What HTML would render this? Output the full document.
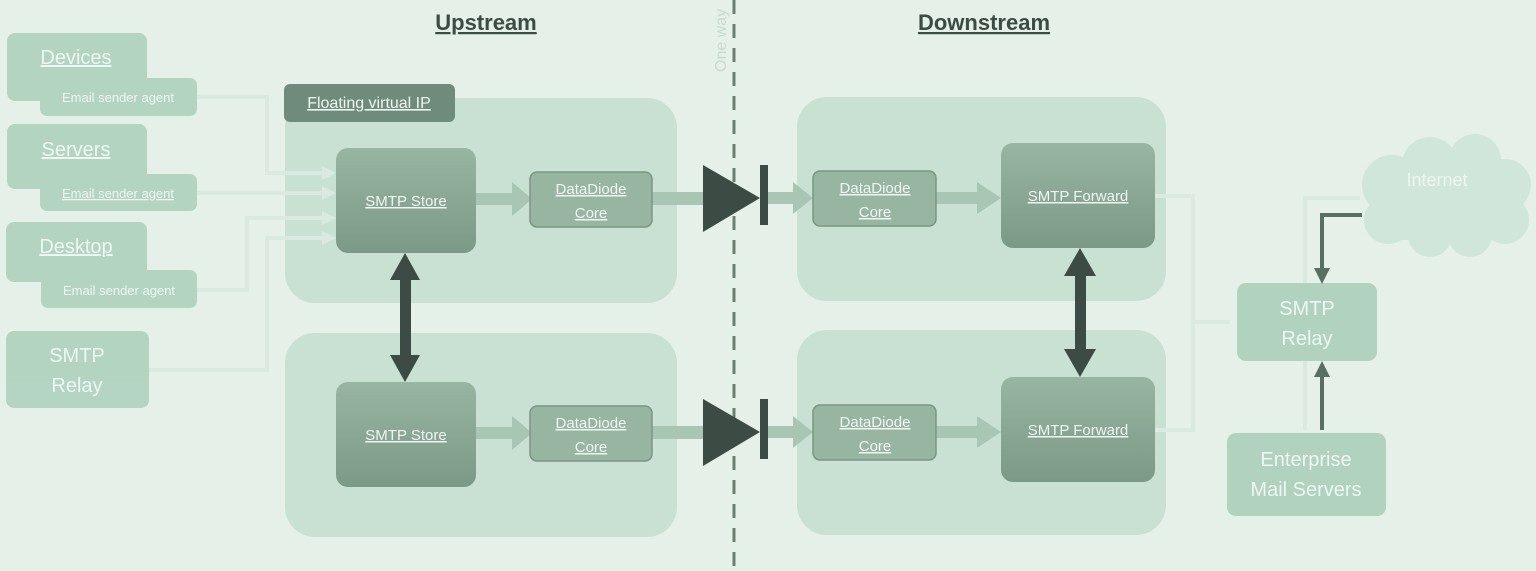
<!DOCTYPE html>
<html><head><meta charset="utf-8"><style>
html,body{margin:0;padding:0;background:#e4f0e8;}
svg{display:block;font-family:"Liberation Sans",sans-serif;}
.w{fill:#eef6f1;}
.u{text-decoration:underline;}
</style></head><body>
<svg width="1536" height="571" viewBox="0 0 1536 571" xmlns="http://www.w3.org/2000/svg">
<defs>
<linearGradient id="dg" x1="0" y1="0" x2="0" y2="1"><stop offset="0" stop-color="#98b5a2"/><stop offset="1" stop-color="#7c9886"/></linearGradient>
</defs>
<rect width="1536" height="571" fill="#e4f0e8"/>
<text x="486" y="30" font-size="22" font-weight="bold" fill="#3c4c44" text-anchor="middle" class="u">Upstream</text>
<text x="984" y="30" font-size="22" font-weight="bold" fill="#3c4c44" text-anchor="middle" class="u">Downstream</text>
<text transform="translate(726,72) rotate(-90)" font-size="16" fill="#c8dacd">One way</text>
<line x1="734" y1="0" x2="734" y2="571" stroke="#6a8072" stroke-width="3" stroke-dasharray="14,10"/>
<rect x="285" y="98" width="392" height="205" rx="30" fill="#c8e1d2"/>
<rect x="285" y="333" width="392" height="204" rx="30" fill="#c8e1d2"/>
<rect x="797" y="97" width="369" height="204" rx="30" fill="#c8e1d2"/>
<rect x="797" y="330" width="369" height="205" rx="30" fill="#c8e1d2"/>
<g stroke="#dbeae0" stroke-width="4" fill="none">
<polyline points="197,97 267,97 267,173 330,173"/>
<polyline points="197,193 330,193"/>
<polyline points="197,290 247,290 247,218 330,218"/>
<polyline points="149,370 267,370 267,238 330,238"/>
</g>
<g fill="#dbeae0"><polygon points="322,166 336,173 322,180"/><polygon points="322,186 336,193 322,200"/><polygon points="322,211 336,218 322,225"/><polygon points="322,231 336,238 322,245"/></g>
<g fill="#b0d2bf" opacity="0.92">
<rect x="7" y="33" width="140" height="68" rx="8"/>
<rect x="40" y="78" width="157" height="38" rx="7"/>
<rect x="7" y="124" width="140" height="65" rx="8"/>
<rect x="40" y="174" width="157" height="37" rx="7"/>
<rect x="6" y="222" width="141" height="60" rx="8"/>
<rect x="41" y="270" width="156" height="38" rx="7"/>
<rect x="6" y="331" width="143" height="77" rx="8"/>
</g>
<g class="w" text-anchor="middle">
<text x="76" y="64" font-size="20" class="u">Devices</text>
<text x="118" y="102" font-size="13">Email sender agent</text>
<text x="76" y="156" font-size="20" class="u">Servers</text>
<text x="118" y="198" font-size="13" class="u">Email sender agent</text>
<text x="76" y="253" font-size="20" class="u">Desktop</text>
<text x="119" y="295" font-size="13">Email sender agent</text>
<text x="77" y="362" font-size="20">SMTP</text>
<text x="77" y="392" font-size="20">Relay</text>
</g>
<rect x="284" y="84" width="171" height="38" rx="6" fill="#6f8b7b"/>
<text x="369" y="108" font-size="16" class="w u" text-anchor="middle">Floating virtual IP</text>
<g id="row">
<rect x="476" y="193" width="40" height="12" fill="#a8c6b3"/>
<polygon points="512,182 532,199 512,216" fill="#a8c6b3"/>
<rect x="652" y="192" width="60" height="13" fill="#a8c6b3"/>
<rect x="336" y="148" width="140" height="105" rx="12" fill="url(#dg)"/>
<rect x="530" y="172" width="122" height="55" rx="7" fill="#98b5a2" stroke="#7c9584" stroke-width="1.5"/>
<text x="406" y="206" font-size="15" class="w u" text-anchor="middle">SMTP Store</text>
<text x="591" y="194" font-size="15" class="w u" text-anchor="middle">DataDiode</text>
<text x="591" y="218" font-size="15" class="w u" text-anchor="middle">Core</text>
<polygon points="703,165 760,198 703,232" fill="#3c4b43"/>
<rect x="760" y="165" width="8" height="60" fill="#3c4b43"/>
<rect x="768" y="192" width="25" height="12" fill="#a8c6b3"/>
<polygon points="793,182 813,198 793,214" fill="#a8c6b3"/>
<rect x="936" y="192" width="45" height="12" fill="#a8c6b3"/>
<polygon points="977,182 1001,198 977,214" fill="#a8c6b3"/>
<rect x="1001" y="143" width="154" height="105" rx="12" fill="url(#dg)"/>
<rect x="813" y="171" width="123" height="55" rx="7" fill="#98b5a2" stroke="#7c9584" stroke-width="1.5"/>
<text x="875" y="193" font-size="15" class="w u" text-anchor="middle">DataDiode</text>
<text x="875" y="217" font-size="15" class="w u" text-anchor="middle">Core</text>
<text x="1078" y="201" font-size="15" class="w u" text-anchor="middle">SMTP Forward</text>
</g>
<use href="#row" transform="translate(0,234)"/>
<g fill="#3c4b43">
<rect x="400" y="272" width="11" height="92"/>
<polygon points="405,253 390,280 420,280"/><polygon points="405,382 390,355 420,355"/>
<rect x="1075" y="268" width="11" height="90"/>
<polygon points="1080,248 1064,276 1096,276"/><polygon points="1080,377 1064,349 1096,349"/>
</g>
<g stroke="#dbeae0" stroke-width="4" fill="none">
<polyline points="1155,196 1193,196 1193,430 1155,430"/>
<polyline points="1193,322 1230,322"/>
<polyline points="1305,430 1305,361"/>
<polyline points="1305,283 1305,198 1360,198"/>
</g>
<g fill="#d1e6da">
<circle cx="1392" cy="185" r="30"/><circle cx="1430" cy="165" r="28"/><circle cx="1475" cy="160" r="26"/>
<circle cx="1505" cy="185" r="26"/><circle cx="1505" cy="220" r="24"/><circle cx="1470" cy="235" r="22"/><circle cx="1430" cy="235" r="22"/><circle cx="1388" cy="220" r="24"/>
<rect x="1390" y="170" width="115" height="70"/>
</g>
<text x="1437" y="186" font-size="18" class="w" text-anchor="middle">Internet</text>
<rect x="1237" y="283" width="140" height="78" rx="9" fill="#b0d2bf"/>
<text x="1307" y="315" font-size="20" class="w" text-anchor="middle">SMTP</text>
<text x="1307" y="345" font-size="20" class="w" text-anchor="middle">Relay</text>
<rect x="1227" y="433" width="159" height="83" rx="9" fill="#b0d2bf"/>
<text x="1306" y="466" font-size="20" class="w" text-anchor="middle">Enterprise</text>
<text x="1306" y="496" font-size="20" class="w" text-anchor="middle">Mail Servers</text>
<g fill="none" stroke="#5a6e63" stroke-width="4">
<polyline points="1362,215 1322,215 1322,270"/>
<line x1="1322" y1="430" x2="1322" y2="375"/>
</g>
<g fill="#5a6e63">
<polygon points="1314,268 1330,268 1322,284"/>
<polygon points="1314,377 1330,377 1322,361"/>
</g>
</svg>
</body></html>
